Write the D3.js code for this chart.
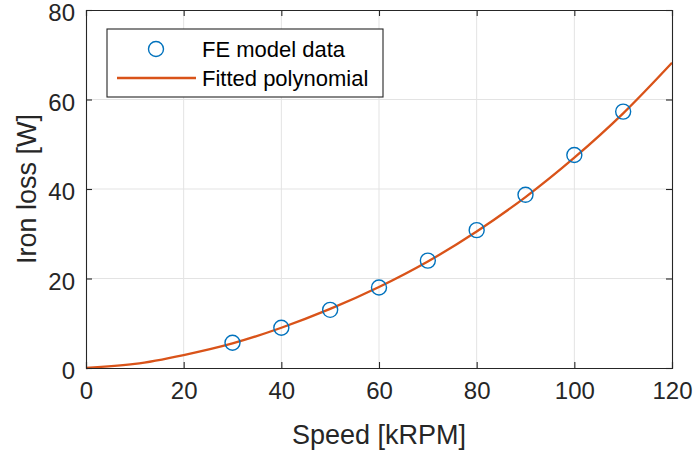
<!DOCTYPE html>
<html>
<head>
<meta charset="utf-8">
<script src="https://cdn.jsdelivr.net/npm/d3@7"></script>
<style>
  html, body { margin: 0; padding: 0; background: #fff; }
  svg { display: block; font-family: "Liberation Sans", Arial, Helvetica, sans-serif; }
</style>
</head>
<body>
<svg id="chart" width="694" height="450"></svg>
<script>
// ---- data ----
const speed = [30, 40, 50, 60, 70, 80, 90, 100, 110];
const ironLoss = [5.65, 9.0, 13.0, 18.0, 24.0, 30.8, 38.7, 47.6, 57.3];
const fitSpeed = [0, 10, 20, 30, 40, 50, 60, 70, 80, 90, 100, 110, 120];
const fitLoss = [0, 0.9, 2.9, 5.5, 9.0, 13.2, 18.1, 23.8, 30.5, 38.2, 47.0, 56.9, 68.2];
const xTicks = [0, 20, 40, 60, 80, 100, 120];
const yTicks = [0, 20, 40, 60, 80];
const seriesNames = ["FE model data", "Fitted polynomial"];
const xLabel = "Speed [kRPM]";
const yLabel = "Iron loss [W]";

// ---- layout ----
const svg = d3.select("#chart");
const L = 86, R = 672, T = 10, B = 368;
const axisColor = "#262626";
const gridColor = "#e3e3e3";
const blue = "#0072BD";
const orange = "#D95319";

const x = d3.scaleLinear().domain([0, 120]).range([L, R]);
const y = d3.scaleLinear().domain([0, 80]).range([B, T]);

// grid
const grid = svg.append("g");
grid.selectAll("line.gx").data(xTicks.slice(1, -1)).enter().append("line")
  .attr("x1", d => x(d)).attr("x2", d => x(d)).attr("y1", T).attr("y2", B)
  .attr("stroke", gridColor).attr("stroke-width", 1);
grid.selectAll("line.gy").data(yTicks.slice(1, -1)).enter().append("line")
  .attr("y1", d => y(d)).attr("y2", d => y(d)).attr("x1", L).attr("x2", R)
  .attr("stroke", gridColor).attr("stroke-width", 1);

// fitted curve
const line = d3.line().x((d, i) => x(fitSpeed[i])).y(d => y(d)).curve(d3.curveCatmullRom);
svg.append("path").datum(fitLoss)
  .attr("d", line).attr("fill", "none").attr("stroke", orange).attr("stroke-width", 2.3);

// data markers
svg.selectAll("circle.pt").data(ironLoss).enter().append("circle")
  .attr("cx", (d, i) => x(speed[i])).attr("cy", d => y(d)).attr("r", 7.5)
  .attr("fill", "none").attr("stroke", blue).attr("stroke-width", 1.4);

// axes (with inward ticks on all sides)
const tl = 6;
const axB = svg.append("g").attr("transform", `translate(0,${B})`)
  .call(d3.axisBottom(x).tickValues(xTicks).tickSize(-tl).tickPadding(14).tickFormat(d3.format("d")));
const axT = svg.append("g").attr("transform", `translate(0,${T})`)
  .call(d3.axisTop(x).tickValues(xTicks).tickSize(-tl).tickFormat(""));
const axL = svg.append("g").attr("transform", `translate(${L},0)`)
  .call(d3.axisLeft(y).tickValues(yTicks).tickSize(-tl).tickPadding(11).tickFormat(d3.format("d")));
const axR = svg.append("g").attr("transform", `translate(${R},0)`)
  .call(d3.axisRight(y).tickValues(yTicks).tickSize(-tl).tickFormat(""));
[axB, axT, axL, axR].forEach(g => {
  g.select(".domain").attr("stroke", axisColor).attr("stroke-width", 1.1);
  g.selectAll(".tick line").attr("stroke", axisColor).attr("stroke-width", 1.1);
  g.selectAll(".tick text").attr("fill", axisColor).style("font-size", "24px");
});
axB.selectAll(".tick text").attr("dy", "0.71em");
axL.selectAll(".tick text").attr("dy", "0.45em");

// axis labels
svg.append("text").attr("x", (L + R) / 2).attr("y", 444)
  .attr("text-anchor", "middle").attr("fill", axisColor).style("font-size", "27px").text(xLabel);
svg.append("text").attr("transform", `translate(36,${(T + B) / 2}) rotate(-90)`)
  .attr("text-anchor", "middle").attr("fill", axisColor).style("font-size", "27px").text(yLabel);

// legend
const lg = svg.append("g").attr("transform", `translate(${L + 21},${T + 19})`);
lg.append("rect").attr("x", 0).attr("y", 0).attr("width", 276).attr("height", 68)
  .attr("fill", "#fff").attr("stroke", axisColor).attr("stroke-width", 1.1);
lg.append("circle").attr("cx", 49).attr("cy", 20).attr("r", 7.5)
  .attr("fill", "none").attr("stroke", blue).attr("stroke-width", 1.4);
lg.append("line").attr("x1", 10).attr("x2", 89).attr("y1", 49).attr("y2", 49)
  .attr("stroke", orange).attr("stroke-width", 2.3);
lg.selectAll("text.lt").data(seriesNames).enter().append("text")
  .attr("x", 95).attr("y", (d, i) => 20 + i * 29).attr("dy", "0.35em")
  .attr("fill", "#000").style("font-size", "22px").text(d => d);
</script>
</body>
</html>
